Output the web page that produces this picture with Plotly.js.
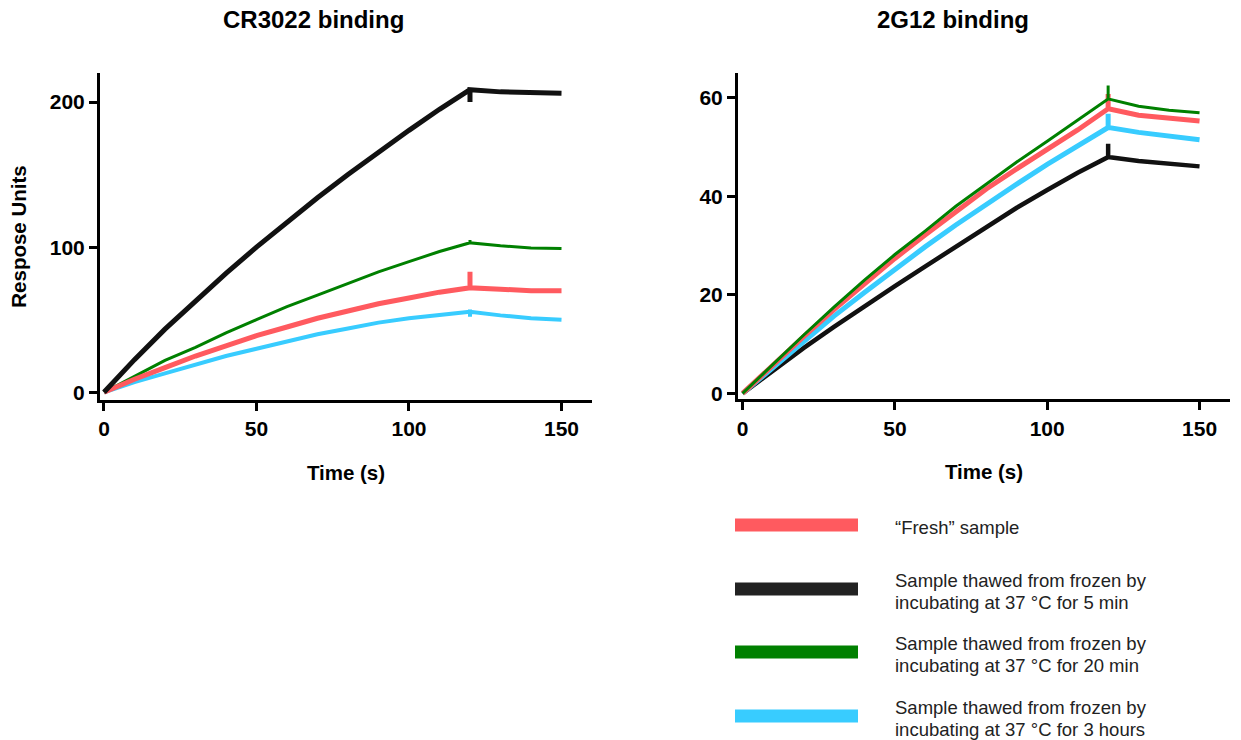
<!DOCTYPE html>
<html>
<head>
<meta charset="utf-8">
<script src="https://cdn.plot.ly/plotly-3.0.1.min.js"></script>
<style>html,body{margin:0;padding:0;background:#fff;}#chart{width:1241px;height:740px;}</style>
</head>
<body>
<div id="chart"></div>
<script>
// ---- Data ----
var seriesNames = [["\u201cFresh\u201d sample"],
  ["Sample thawed from frozen by", "incubating at 37 \u00b0C for 5 min"],
  ["Sample thawed from frozen by", "incubating at 37 \u00b0C for 20 min"],
  ["Sample thawed from frozen by", "incubating at 37 \u00b0C for 3 hours"]];
var seriesColors = ["#FF5A5F", "#111111", "#008000", "#38CCFF"];
var panelTitles = ["CR3022 binding", "2G12 binding"];
var xTitle = "Time (s)";
var yTitle = "Respose Units";

// time points (s); the repeated 120 marks the spike at the association/dissociation switch
var time = [0, 10, 20, 30, 40, 50, 60, 70, 80, 90, 100, 110, 120, 120, 120, 130, 140, 150];

// CR3022 binding
var cr_fresh = [0, 9, 17, 25, 32, 39, 45, 51, 56, 61, 65, 69, 72, 83, 72, 71, 70, 70];
var cr_5min  = [0, 22.5, 43.5, 63.3, 82, 100, 117.3, 134, 150, 165.5, 180.5, 195, 208.5, 200, 208.5, 207, 206.5, 206];
var cr_20min = [0, 11, 22, 31, 41, 50, 59, 67, 75, 83, 90, 97, 103, 105, 103, 101, 99.5, 99];
var cr_3h    = [0, 7, 13, 19, 25, 30, 35, 40, 44, 48, 51, 53.5, 55.5, 52, 55.5, 53, 51, 50];

// 2G12 binding
var g_fresh = [0, 5.8, 11.5, 17, 22.3, 27.4, 32.2, 37, 41.5, 45.6, 49.5, 53.5, 57.8, 60.8, 57.8, 56.5, 55.8, 55.3];
var g_5min  = [0, 4.6, 9.2, 13.5, 17.7, 21.8, 25.8, 29.8, 33.8, 37.7, 41.3, 44.8, 48, 50.7, 48, 47.2, 46.6, 46.1];
var g_20min = [0, 6, 11.8, 17.5, 23, 28.2, 33, 38, 42.5, 47, 51.2, 55.5, 59.8, 62.5, 59.8, 58.3, 57.5, 57];
var g_3h    = [0, 5.3, 10.6, 15.7, 20.5, 25.2, 29.8, 34.2, 38.5, 42.5, 46.5, 50.3, 54, 56.8, 54, 53, 52.2, 51.5];

var xTicks = [0, 50, 100, 150];
var crTicks = [0, 100, 200];
var gTicks = [0, 20, 40, 60];

// ---- Build ----
var crSeries = [cr_fresh, cr_5min, cr_20min, cr_3h];
var gSeries = [g_fresh, g_5min, g_20min, g_3h];
var crWidths = [5, 5, 3, 4];
var gWidths = [5, 4.5, 3, 5];
var traces = [];
[3, 2, 0, 1].forEach(function (i) {
  traces.push({x: time, y: crSeries[i], type: "scatter", mode: "lines", name: seriesNames[i].join(" "),
    line: {color: seriesColors[i], width: crWidths[i]}, xaxis: "x", yaxis: "y", showlegend: false});
});
[1, 3, 0, 2].forEach(function (i) {
  traces.push({x: time, y: gSeries[i], type: "scatter", mode: "lines", name: seriesNames[i].join(" "),
    line: {color: seriesColors[i], width: gWidths[i]}, xaxis: "x2", yaxis: "y2", showlegend: false});
});

var W = 1241, H = 740;
function px(x) { return x / W; }
function py(y) { return 1 - y / H; }
var FAM = "Liberation Sans, Arial, sans-serif";
var tickFont = {family: FAM, size: 21, color: "#000", weight: "bold"};
var titleFont = {family: FAM, size: 20.5, color: "#000", weight: "bold"};

function xax(domain, anchor, range) {
  return {domain: domain, anchor: anchor, range: range, tickvals: xTicks, ticktext: xTicks.map(String),
    showline: true, linewidth: 3, linecolor: "#000", ticks: "outside", ticklen: 8, tickwidth: 3, tickcolor: "#000",
    showgrid: false, zeroline: false, tickfont: tickFont,
    title: {text: xTitle, font: titleFont, standoff: 27}};
}
function yax(domain, anchor, range, ticks, title) {
  var a = {domain: domain, anchor: anchor, range: range, tickvals: ticks, ticktext: ticks.map(String),
    showline: true, linewidth: 3, linecolor: "#000", ticks: "outside", ticklen: 8, tickwidth: 3, tickcolor: "#000",
    showgrid: false, zeroline: false, tickfont: tickFont};
  if (title) a.title = {text: title, font: titleFont, standoff: 18};
  return a;
}

var annotations = [
  {text: panelTitles[0], xref: "paper", yref: "paper", x: px(313), y: py(20), xanchor: "center", yanchor: "middle", showarrow: false,
   font: {family: FAM, size: 24, color: "#000", weight: "bold"}},
  {text: panelTitles[1], xref: "paper", yref: "paper", x: px(953), y: py(20), xanchor: "center", yanchor: "middle", showarrow: false,
   font: {family: FAM, size: 24, color: "#000", weight: "bold"}}
];
var shapes = [];
var barY = [525, 589, 652, 716];
var textY = [[527], [580, 602], [643, 665], [707, 729]];
for (var i = 0; i < 4; i++) {
  shapes.push({type: "rect", xref: "paper", yref: "paper", x0: px(735), x1: px(858), y0: py(barY[i] + 6.5), y1: py(barY[i] - 6.5),
    fillcolor: i === 1 ? "#222222" : seriesColors[i], line: {width: 0}});
  for (var j = 0; j < seriesNames[i].length; j++) {
    annotations.push({text: seriesNames[i][j], xref: "paper", yref: "paper", x: px(893), y: py(textY[i][j]), xanchor: "left", yanchor: "middle",
      align: "left", showarrow: false, font: {family: FAM, size: 18.5, color: "#222"}});
  }
}

var layout = {
  width: W, height: H, margin: {l: 0, r: 0, t: 0, b: 0}, paper_bgcolor: "#fff", plot_bgcolor: "#fff",
  showlegend: false,
  xaxis: xax([px(100), px(592)], "y", [-1.3, 160]),
  yaxis: yax([py(400), py(73)], "x", [-5.3, 220], crTicks, yTitle),
  xaxis2: xax([px(738), px(1230)], "y2", [-1.5, 160]),
  yaxis2: yax([py(399.3), py(73.3)], "x2", [-1.2, 65], gTicks, null),
  annotations: annotations, shapes: shapes
};
Plotly.newPlot("chart", traces, layout, {displayModeBar: false, staticPlot: true});
</script>
</body>
</html>
